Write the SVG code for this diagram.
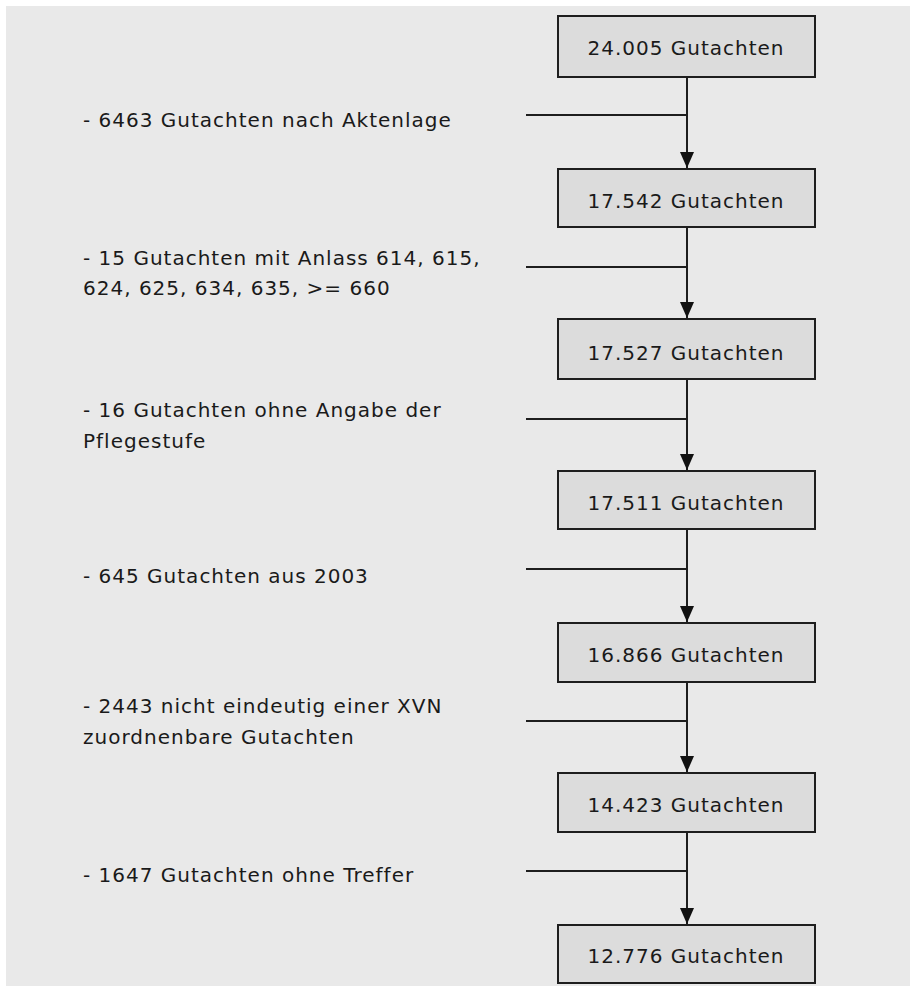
<svg xmlns="http://www.w3.org/2000/svg" width="915" height="988" viewBox="0 0 915 988">
<defs>
<style>
.bg{fill:#e9e9e9}
.box{fill:#dcdcdc;stroke:#1e1e1e;stroke-width:2}
.t{font-family:"DejaVu Sans","Liberation Sans",sans-serif;font-size:20px;fill:#1a1a1a;letter-spacing:1px}
.bt{text-anchor:middle}
.ln{stroke:#1e1e1e;stroke-width:2;fill:none}
.ah{fill:#111}
</style>
<marker id="arr" markerUnits="userSpaceOnUse" markerWidth="17" markerHeight="16" refX="16" refY="8" orient="auto" viewBox="0 0 17 16">
<path d="M0,1 L16,8 L0,15 Z" class="ah"/>
</marker>
</defs>
<rect x="0" y="0" width="915" height="988" fill="#ffffff"/>
<rect class="bg" x="6" y="6" width="904" height="980"/>

<g id="connectors">
<line class="ln" x1="687" y1="77" x2="687" y2="168" marker-end="url(#arr)"/>
<line class="ln" x1="526" y1="115" x2="687" y2="115"/>
<line class="ln" x1="687" y1="227" x2="687" y2="318" marker-end="url(#arr)"/>
<line class="ln" x1="526" y1="267" x2="687" y2="267"/>
<line class="ln" x1="687" y1="379" x2="687" y2="470" marker-end="url(#arr)"/>
<line class="ln" x1="526" y1="419" x2="687" y2="419"/>
<line class="ln" x1="687" y1="529" x2="687" y2="622" marker-end="url(#arr)"/>
<line class="ln" x1="526" y1="569" x2="687" y2="569"/>
<line class="ln" x1="687" y1="682" x2="687" y2="772" marker-end="url(#arr)"/>
<line class="ln" x1="526" y1="721" x2="687" y2="721"/>
<line class="ln" x1="687" y1="832" x2="687" y2="924" marker-end="url(#arr)"/>
<line class="ln" x1="526" y1="871" x2="687" y2="871"/>
</g>

<g id="n1"><rect class="box" x="558" y="16" width="257" height="61"/><text class="t bt" x="686" y="55">24.005 Gutachten</text></g>
<g id="n2"><rect class="box" x="558" y="169" width="257" height="58"/><text class="t bt" x="686" y="208">17.542 Gutachten</text></g>
<g id="n3"><rect class="box" x="558" y="319" width="257" height="60"/><text class="t bt" x="686" y="360">17.527 Gutachten</text></g>
<g id="n4"><rect class="box" x="558" y="471" width="257" height="58"/><text class="t bt" x="686" y="510">17.511 Gutachten</text></g>
<g id="n5"><rect class="box" x="558" y="623" width="257" height="59"/><text class="t bt" x="686" y="662">16.866 Gutachten</text></g>
<g id="n6"><rect class="box" x="558" y="773" width="257" height="59"/><text class="t bt" x="686" y="812">14.423 Gutachten</text></g>
<g id="n7"><rect class="box" x="558" y="925" width="257" height="58"/><text class="t bt" x="686" y="963">12.776 Gutachten</text></g>

<g id="labels">
<text class="t" x="83" y="127">- 6463 Gutachten nach Aktenlage</text>
<text class="t" x="83" y="265">- 15 Gutachten mit Anlass 614, 615,</text>
<text class="t" x="83" y="295">624, 625, 634, 635, &gt;= 660</text>
<text class="t" x="83" y="417">- 16 Gutachten ohne Angabe der</text>
<text class="t" x="83" y="448">Pflegestufe</text>
<text class="t" x="83" y="583">- 645 Gutachten aus 2003</text>
<text class="t" x="83" y="713">- 2443 nicht eindeutig einer XVN</text>
<text class="t" x="83" y="744">zuordnenbare Gutachten</text>
<text class="t" x="83" y="882">- 1647 Gutachten ohne Treffer</text>
</g>
</svg>
